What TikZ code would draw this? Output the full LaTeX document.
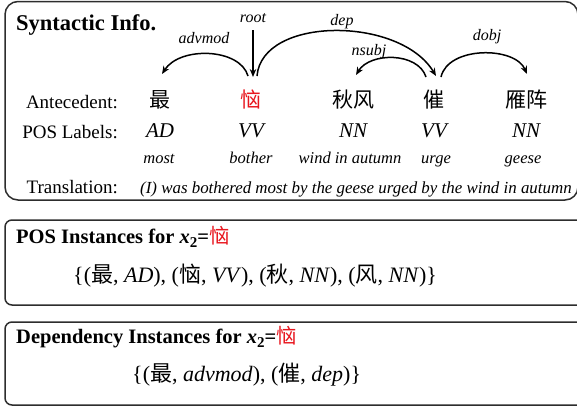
\documentclass[tikz,border=0pt]{standalone}
\usepackage{fontspec}
\setmainfont{Liberation Serif}
\newfontfamily\cjk{Noto Sans CJK SC}
\usetikzlibrary{arrows.meta,calc}
\definecolor{myred}{RGB}{232,22,30}
\definecolor{boxgray}{RGB}{45,45,45}
\tikzset{
  panel/.style={draw=boxgray, line width=1.5pt},
  lbl/.style={inner sep=0pt, anchor=base, font=\fontsize{19}{19}\selectfont},
  word/.style={inner sep=0pt, anchor=base, font=\fontsize{21}{21}\selectfont\cjk},
  postag/.style={inner sep=0pt, anchor=base, font=\fontsize{21}{21}\selectfont\itshape},
  gloss/.style={inner sep=0pt, anchor=base, font=\fontsize{16.5}{16.5}\selectfont\itshape},
  rel/.style={inner sep=0pt, anchor=base, font=\fontsize{16}{16}\selectfont\itshape},
  arc/.style={line width=1.5pt, -{Stealth[length=8pt,width=6.5pt]}},
  title/.style={inner sep=0pt, anchor=base west, font=\fontsize{20.5}{20.5}\selectfont\bfseries},
  settext/.style={inner sep=0pt, anchor=base west, font=\fontsize{22}{22}\selectfont},
}
\newcommand{\xtwo}{\textbf{\textit{x}\raisebox{-0.22em}{\fontsize{15}{15}\selectfont 2}=}{\cjk\color{myred}\mdseries 恼}}
\begin{document}
\begin{tikzpicture}[x=1pt,y=-1pt]
\useasboundingbox (0,0) rectangle (577,410);
\clip (0,0) rectangle (577,410);
% panels
\draw[panel, rounded corners=13pt] (5,1.5) rectangle (578,200);
\draw[panel, rounded corners=7pt] (5,220) rectangle (600,305);
\draw[panel, rounded corners=7pt] (5,322) rectangle (600,405);

% Syntactic info
\node[inner sep=0pt, anchor=base west, font=\fontsize{22.5}{22.5}\selectfont\bfseries] (ttl) at (16,30) {Syntactic Info.};

\node[lbl, anchor=base east] (ante) at (118,108) {Antecedent:};
\node[lbl, anchor=base east] (posl) at (118,138) {POS Labels:};
\node[lbl, anchor=base east] (trl) at (118,193) {Translation:};

\node[word] (w1) at (160,107) {最};
\node[word, text=myred] (w2) at (251,107) {恼};
\node[word] (w3) at (353,107) {秋风};
\node[word] (w4) at (434,107) {催};
\node[word] (w5) at (526,107) {雁阵};

\node[postag] (p1) at (160,137) {AD};
\node[postag] (p2) at (251,137) {VV};
\node[postag] (p3) at (353,137) {NN};
\node[postag] (p4) at (434,137) {VV};
\node[postag] (p5) at (526,137) {NN};

\node[gloss] (g1) at (159,163) {most};
\node[gloss] (g2) at (251,163) {bother};
\node[gloss] (g3) at (350,163) {wind in autumn};
\node[gloss] (g4) at (436,163) {urge};
\node[gloss] (g5) at (523,163) {geese};

\node[gloss, anchor=base west, font=\fontsize{16.9}{16.9}\selectfont\itshape] (trans) at (140,193) {(I) was bothered most by the geese urged by the wind in autumn};

% relation labels
\node[rel] (lroot) at (253,22) {root};
\node[rel] (ladv) at (204,43) {advmod};
\node[rel] (ldep) at (342,25) {dep};
\node[rel] (lnsubj) at (369,55) {nsubj};
\node[rel] (ldobj) at (487,40) {dobj};

% arcs
\coordinate (rootstart) at (253,30);
\draw[arc] (rootstart) -- ($(w2.base)+(2,-30)$);
\draw[arc] ($(w2.base)+(-3,-31)$) .. controls (240,48) and (180,46) .. ($(w1.base)+(2,-33)$);
\draw[arc] ($(w2.base)+(6,-31)$) .. controls (262,16) and (400,16) .. ($(w4.base)+(2,-31)$);
\draw[arc] ($(w4.base)+(-8,-30)$) .. controls (418,52) and (370,52) .. ($(w3.base)+(3,-32)$);
\draw[arc] ($(w4.base)+(7,-30)$) .. controls (448,46) and (515,46) .. ($(w5.base)+(1,-33)$);

% POS instances
\node[title] (t2) at (16,243) {POS Instances for \xtwo};
\node[settext] (s2) at (73,282) {\{({\cjk 最}, \textit{AD}), ({\cjk 恼}, \textit{VV}), ({\cjk 秋}, \textit{NN}), ({\cjk 风}, \textit{NN})\}};

% Dependency instances
\node[title] (t3) at (16,343) {Dependency Instances for \xtwo};
\node[settext] (s3) at (132,381) {\{({\cjk 最}, \textit{advmod}), ({\cjk 催}, \textit{dep})\}};
\end{tikzpicture}
\end{document}
